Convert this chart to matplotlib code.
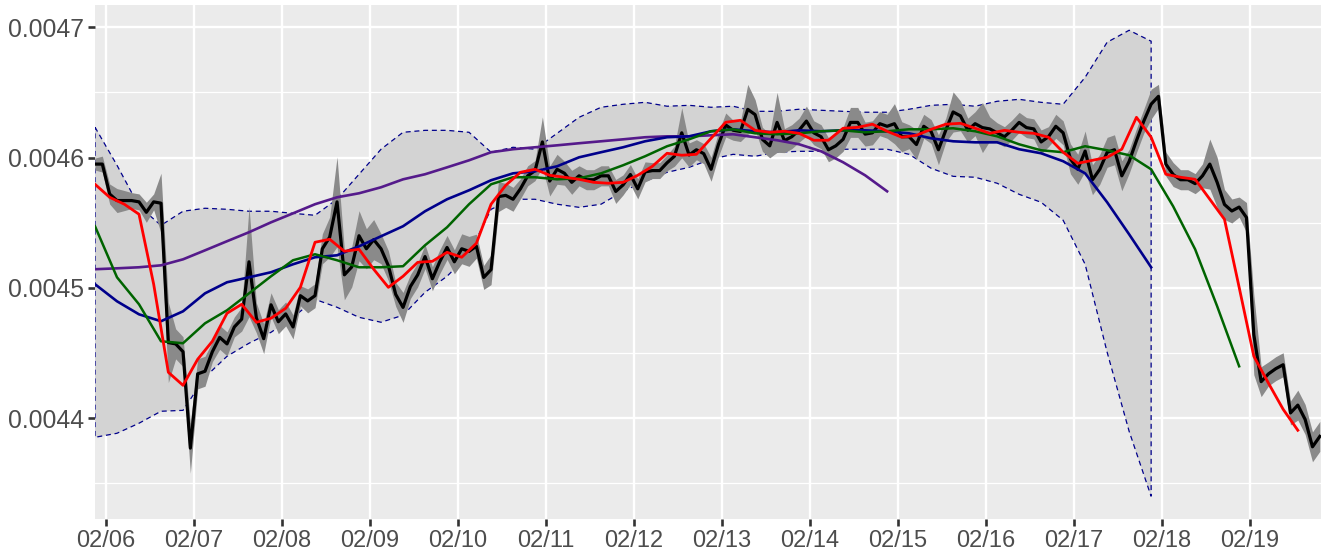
import numpy as np
import pandas as pd
import matplotlib
matplotlib.use("Agg")
import matplotlib.pyplot as plt
import matplotlib.dates as mdates
from matplotlib.ticker import FixedLocator, FormatStrFormatter

START = "2021-02-05 21:00"

# 2-hourly price
price = [
    0.004595, 0.004595, 0.004572, 0.004567, 0.004567, 0.004567, 0.004566, 0.004558, 0.004566, 0.004565,
    0.004458, 0.004457, 0.004451, 0.004377, 0.004434, 0.004436, 0.004451, 0.004462, 0.004457, 0.004470,
    0.004476, 0.004520, 0.004477, 0.004461, 0.004487, 0.004474, 0.004480, 0.004470, 0.004494, 0.004490,
    0.004494, 0.004530, 0.004539, 0.004566, 0.004510, 0.004516, 0.004540, 0.004530, 0.004537, 0.004530,
    0.004517, 0.004495, 0.004485, 0.004501, 0.004510, 0.004524, 0.004507, 0.004520, 0.004531, 0.004520,
    0.004530, 0.004528, 0.004532, 0.004508, 0.004514, 0.004570, 0.004571, 0.004568, 0.004576, 0.004586,
    0.004590, 0.004612, 0.004582, 0.004591, 0.004588, 0.004581, 0.004586, 0.004583, 0.004583, 0.004586,
    0.004586, 0.004574, 0.004579, 0.004587, 0.004576, 0.004589, 0.004590, 0.004590, 0.004596, 0.004601,
    0.004619, 0.004602, 0.004606, 0.004603, 0.004591, 0.004610, 0.004625, 0.004621, 0.004620, 0.004637,
    0.004633, 0.004614, 0.004609, 0.004627, 0.004613, 0.004616, 0.004621, 0.004628, 0.004619, 0.004616,
    0.004606, 0.004609, 0.004614, 0.004627, 0.004627, 0.004618, 0.004619, 0.004626, 0.004624, 0.004626,
    0.004616, 0.004616, 0.004610, 0.004624, 0.004620, 0.004606, 0.004621, 0.004635, 0.004632, 0.004621,
    0.004626, 0.004623, 0.004622, 0.004619, 0.004616, 0.004621, 0.004627, 0.004623, 0.004622, 0.004612,
    0.004616, 0.004624, 0.004619, 0.004599, 0.004591, 0.004605, 0.004583, 0.004591, 0.004604, 0.004606,
    0.004586, 0.004597, 0.004613, 0.004628, 0.004641, 0.004647, 0.004595, 0.004587, 0.004583, 0.004583,
    0.004580, 0.004586, 0.004595, 0.004581, 0.004564, 0.004559, 0.004562, 0.004554, 0.004464, 0.004428,
    0.004434, 0.004438, 0.004441, 0.004404, 0.004410, 0.004399, 0.004378, 0.004386,
]

# half-width of the price interval, in units of 1e-6
price_halfwidth_e6 = [
    4.6, 6.1, 7.7, 9.2, 7.7, 6.1, 6.1, 7.7, 6.1, 23.0,
    30.7, 11.5, 11.5, 19.2, 11.5, 11.5, 7.7, 9.2, 9.2, 7.7,
    9.2, 42.2, 11.5, 11.5, 9.2, 9.2, 9.2, 9.2, 7.7, 9.2,
    9.2, 11.5, 15.4, 34.5, 19.2, 15.4, 19.2, 15.4, 15.4, 11.5,
    11.5, 9.2, 11.5, 9.2, 9.2, 9.2, 9.2, 9.2, 9.2, 9.2,
    11.5, 11.5, 9.2, 9.2, 11.5, 11.5, 9.2, 9.2, 7.7, 7.7,
    7.7, 19.2, 11.5, 11.5, 9.2, 9.2, 7.7, 7.7, 7.7, 7.7,
    7.7, 9.2, 7.7, 7.7, 7.7, 7.7, 6.1, 6.1, 6.1, 7.7,
    19.2, 9.2, 7.7, 7.7, 9.2, 9.2, 9.2, 7.7, 7.7, 19.2,
    11.5, 9.2, 9.2, 23.0, 9.2, 9.2, 9.2, 11.5, 9.2, 9.2,
    9.2, 9.2, 9.2, 11.5, 11.5, 9.2, 9.2, 9.2, 9.2, 15.4,
    11.5, 9.2, 11.5, 9.2, 9.2, 11.5, 9.2, 15.4, 11.5, 9.2,
    9.2, 19.2, 9.2, 7.7, 7.7, 7.7, 7.7, 7.7, 7.7, 9.2,
    7.7, 9.2, 9.2, 11.5, 11.5, 15.4, 11.5, 11.5, 11.5, 11.5,
    11.5, 9.2, 9.2, 9.2, 11.5, 9.2, 9.2, 9.2, 7.7, 7.7,
    7.7, 9.2, 19.2, 19.2, 11.5, 9.2, 7.7, 11.5, 30.7, 11.5,
    9.2, 9.2, 9.2, 9.2, 11.5, 11.5, 11.5, 11.5,
]

# 4-hourly short moving average
ma_short = [
    0.0045795, 0.0045695, 0.0045642, 0.0045565, 0.0045028, 0.0044352, 0.0044252, 0.0044452, 0.0044590, 0.0044805,
    0.0044874, 0.0044736, 0.0044767, 0.0044843, 0.0045004, 0.0045350, 0.0045373, 0.0045281, 0.0045296, 0.0045143,
    0.0045004, 0.0045089, 0.0045196, 0.0045204, 0.0045273, 0.0045235, 0.0045342, 0.0045642, 0.0045787, 0.0045887,
    0.0045910, 0.0045864, 0.0045849, 0.0045833, 0.0045810, 0.0045803, 0.0045810, 0.0045864, 0.0045933, 0.0046033,
    0.0046018, 0.0046025, 0.0046148, 0.0046271, 0.0046286, 0.0046209, 0.0046194, 0.0046202, 0.0046186, 0.0046133,
    0.0046133, 0.0046225, 0.0046232, 0.0046256, 0.0046202, 0.0046156, 0.0046171, 0.0046217, 0.0046256, 0.0046263,
    0.0046225, 0.0046186, 0.0046209, 0.0046194, 0.0046186, 0.0046156, 0.0046041, 0.0045956, 0.0045979, 0.0046002,
    0.0046064, 0.0046309, 0.0046156, 0.0045872, 0.0045849, 0.0045833, 0.0045680, 0.0045526, 0.0045004, 0.0044475,
    0.0044268, 0.0044068, 0.0043907,
]

# 6-hourly medium moving average
ma_mid = [
    0.0045473, 0.0045081, 0.0044874, 0.0044590, 0.0044575, 0.0044728, 0.0044828, 0.0044958, 0.0045089, 0.0045212,
    0.0045258, 0.0045212, 0.0045158, 0.0045158, 0.0045166, 0.0045327, 0.0045465, 0.0045642, 0.0045795, 0.0045849,
    0.0045849, 0.0045833, 0.0045841, 0.0045879, 0.0045941, 0.0046010, 0.0046087, 0.0046140, 0.0046202, 0.0046217,
    0.0046186, 0.0046179, 0.0046186, 0.0046202, 0.0046209, 0.0046194, 0.0046202, 0.0046217, 0.0046217, 0.0046225,
    0.0046202, 0.0046163, 0.0046102, 0.0046056, 0.0046041, 0.0046087, 0.0046056, 0.0046018, 0.0045910, 0.0045626,
    0.0045296, 0.0044859, 0.0044398,
]

# 6-hourly long moving average and its envelope
ma_long = [
    0.0045028, 0.0044897, 0.0044797, 0.0044744, 0.0044820, 0.0044958, 0.0045043, 0.0045081, 0.0045120, 0.0045181,
    0.0045235, 0.0045250, 0.0045319, 0.0045396, 0.0045473, 0.0045588, 0.0045680, 0.0045749, 0.0045826, 0.0045879,
    0.0045895, 0.0045933, 0.0046002, 0.0046041, 0.0046079, 0.0046125, 0.0046156, 0.0046163, 0.0046202, 0.0046217,
    0.0046202, 0.0046194, 0.0046209, 0.0046202, 0.0046209, 0.0046209, 0.0046202, 0.0046186, 0.0046148, 0.0046125,
    0.0046117, 0.0046117, 0.0046064, 0.0046033, 0.0045972, 0.0045879, 0.0045657, 0.0045411, 0.0045158,
]

band_upper = [
    0.0046233, 0.0045941, 0.0045626, 0.0045480, 0.0045588, 0.0045611, 0.0045603, 0.0045588, 0.0045588, 0.0045572,
    0.0045557, 0.0045680, 0.0045872, 0.0046064, 0.0046194, 0.0046209, 0.0046209, 0.0046194, 0.0046041, 0.0046079,
    0.0046064, 0.0046186, 0.0046309, 0.0046386, 0.0046409, 0.0046424, 0.0046394, 0.0046401, 0.0046386, 0.0046394,
    0.0046355, 0.0046355, 0.0046371, 0.0046363, 0.0046355, 0.0046348, 0.0046348, 0.0046371, 0.0046401, 0.0046409,
    0.0046394, 0.0046432, 0.0046447, 0.0046424, 0.0046409, 0.0046616, 0.0046885, 0.0046977, 0.0046893,
]

band_lower = [
    0.0043853, 0.0043884, 0.0043961, 0.0044053, 0.0044060, 0.0044314, 0.0044475, 0.0044575, 0.0044659, 0.0044774,
    0.0044912, 0.0044851, 0.0044774, 0.0044736, 0.0044790, 0.0044966, 0.0045089, 0.0045258, 0.0045603, 0.0045680,
    0.0045680, 0.0045642, 0.0045618, 0.0045642, 0.0045741, 0.0045818, 0.0045887, 0.0045925, 0.0045987, 0.0046025,
    0.0046010, 0.0046041, 0.0046048, 0.0046048, 0.0046064, 0.0046064, 0.0046064, 0.0046025, 0.0045918, 0.0045856,
    0.0045849, 0.0045803, 0.0045718, 0.0045657, 0.0045519, 0.0045181, 0.0044506, 0.0043899, 0.0043400,
]

# 6-hourly long-horizon trend
trend = [
    0.0045143, 0.0045150, 0.0045158, 0.0045173, 0.0045219, 0.0045288, 0.0045358, 0.0045427, 0.0045503, 0.0045572,
    0.0045642, 0.0045695, 0.0045726, 0.0045772, 0.0045833, 0.0045872, 0.0045925, 0.0045979, 0.0046041, 0.0046064,
    0.0046079, 0.0046094, 0.0046110, 0.0046125, 0.0046140, 0.0046156, 0.0046163, 0.0046163, 0.0046171, 0.0046179,
    0.0046156, 0.0046133, 0.0046102, 0.0046048, 0.0045964, 0.0045864, 0.0045741,
]

day_labels = ["02/06", "02/07", "02/08", "02/09", "02/10", "02/11", "02/12",
              "02/13", "02/14", "02/15", "02/16", "02/17", "02/18", "02/19"]
y_ticks = [0.0044, 0.0045, 0.0046, 0.0047]

t_price = pd.date_range(START, periods=len(price), freq="2h")
t_short = pd.date_range(START, periods=len(ma_short), freq="4h")
t_mid = pd.date_range(START, periods=len(ma_mid), freq="6h")
t_long = pd.date_range(START, periods=len(ma_long), freq="6h")
t_trend = pd.date_range(START, periods=len(trend), freq="6h")
t_days = pd.date_range("2021-02-06", periods=len(day_labels), freq="D")

price_a = np.array(price)
hw = np.array(price_halfwidth_e6) * 1e-6

W, H = 1321, 555
fig = plt.figure(figsize=(W / 100, H / 100), dpi=100)
ax = fig.add_axes([95 / W, (H - 519) / H, (W - 95) / W, (519 - 5) / H])
ax.set_facecolor("#EBEBEB")
for s in ax.spines.values():
    s.set_visible(False)

# envelope of the long average, drawn as a closed dashed polygon
poly_x = mdates.date2num(np.concatenate([t_long.values, t_long.values[::-1]]))
poly_y = np.concatenate([band_upper, band_lower[::-1]])
ax.fill(poly_x, poly_y, facecolor="#D3D3D3", edgecolor="#00008B",
        linewidth=0.9, linestyle=(0, (4, 3)), zorder=2)

ax.fill_between(t_price, price_a - hw, price_a + hw, color="#8A8A8A",
                linewidth=0, zorder=3)
ax.plot(t_price, price_a, color="black", linewidth=2.3, zorder=4)
ax.plot(t_trend, trend, color="#551A8B", linewidth=1.9, zorder=5)
ax.plot(t_long, ma_long, color="#00008B", linewidth=1.9, zorder=6)
ax.plot(t_mid, ma_mid, color="#006400", linewidth=1.8, zorder=7)
ax.plot(t_short, ma_short, color="#FF0000", linewidth=2.0, zorder=8)

x0 = pd.Timestamp(START)
ax.set_xlim(mdates.date2num(x0), mdates.date2num(x0 + pd.Timedelta(days=13.93)))
ax.set_ylim(0.0043226, 0.0047171)

ax.xaxis.set_major_locator(FixedLocator(mdates.date2num(t_days)))
ax.set_xticklabels(day_labels)
ax.yaxis.set_major_locator(FixedLocator(y_ticks))
ax.yaxis.set_major_formatter(FormatStrFormatter("%.4f"))
ax.yaxis.set_minor_locator(FixedLocator([0.00435, 0.00445, 0.00455, 0.00465]))

ax.set_axisbelow(True)
ax.grid(which="major", axis="both", color="white", linewidth=1.7)
ax.grid(which="minor", axis="y", color="white", linewidth=0.9)
ax.tick_params(which="major", length=5, width=1.9, color="#333333",
               labelcolor="#4D4D4D", labelsize=17, pad=3)
ax.tick_params(axis="y", which="major", labelsize=17.8)
ax.tick_params(which="minor", length=0)
for lab in ax.get_xticklabels() + ax.get_yticklabels():
    lab.set_fontfamily("Liberation Sans")

fig.savefig("out.png", dpi=100, facecolor="white")
